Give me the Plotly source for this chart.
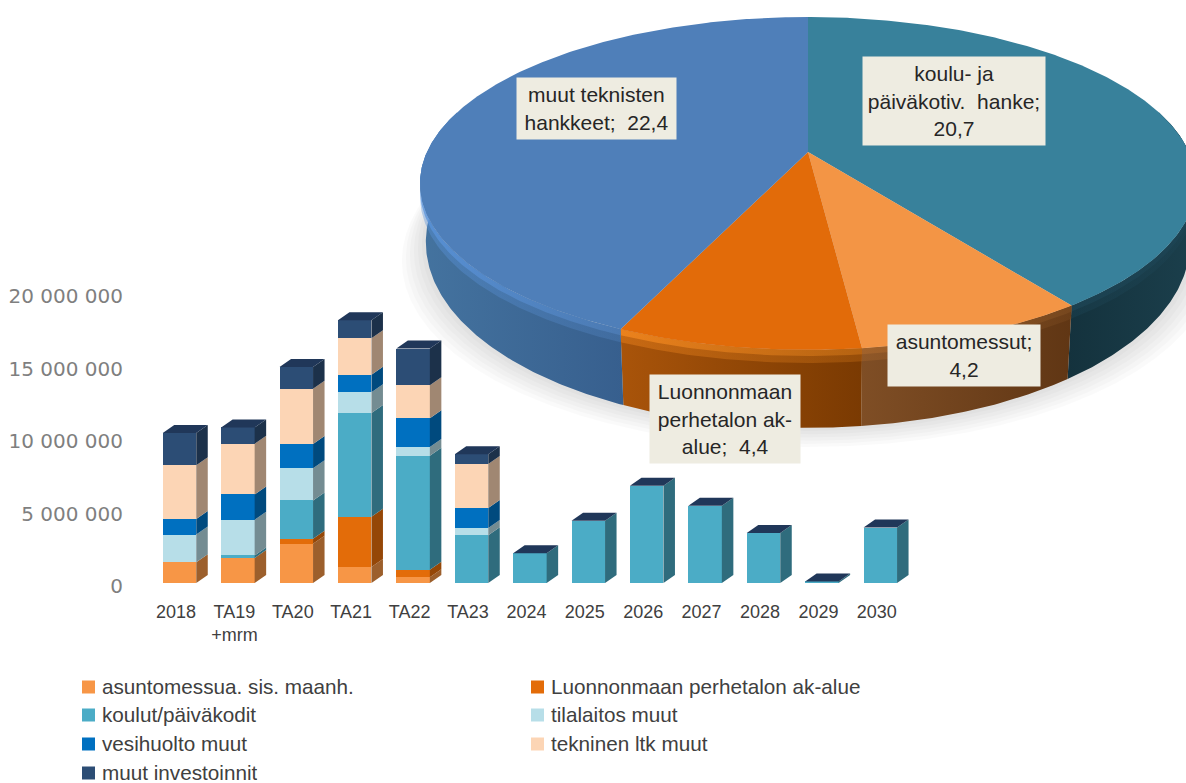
import math
import plotly.graph_objects as go

# ---------- data ----------
categories = ["2018", "TA19<br>+mrm", "TA20", "TA21", "TA22", "TA23", "2024", "2025", "2026", "2027", "2028", "2029", "2030"]
asuntomessu = [1.43, 1.72, 2.71, 1.10, 0.39, 0, 0, 0, 0, 0, 0, 0, 0]
luonnonmaa = [0, 0, 0.34, 3.47, 0.53, 0, 0, 0, 0, 0, 0, 0, 0]
koulut = [0, 0.18, 2.64, 7.15, 7.86, 3.29, 2.05, 4.30, 6.71, 5.33, 3.45, 0.11, 3.82]
tilalaitos = [1.91, 2.46, 2.23, 1.43, 0.60, 0.51, 0, 0, 0, 0, 0, 0, 0]
vesihuolto = [1.08, 1.75, 1.66, 1.22, 1.98, 1.38, 0, 0, 0, 0, 0, 0, 0]
tekninen = [3.70, 3.49, 3.82, 2.51, 2.28, 3.03, 0, 0, 0, 0, 0, 0, 0]
muut_inv = [2.23, 1.13, 1.49, 1.24, 2.53, 0.67, 0, 0, 0, 0, 0, 0, 0]
y_ticks = [0, 5, 10, 15, 20]
y_tick_labels = ["0", "5 000 000", "10 000 000", "15 000 000", "20 000 000"]

series_names = ["asuntomessua. sis. maanh.", "Luonnonmaan perhetalon ak-alue", "koulut/päiväkodit",
                "tilalaitos muut", "vesihuolto muut", "tekninen ltk muut", "muut investoinnit"]
series_values = [asuntomessu, luonnonmaa, koulut, tilalaitos, vesihuolto, tekninen, muut_inv]
series_colors = ["#f79646", "#e36c09", "#4bacc6", "#b7dee8", "#0070c0", "#fcd5b5", "#2c4d75"]
side_colors = ["#9c5f2c", "#954707", "#2f6c7d", "#748c92", "#004a7e", "#a08772", "#1c314a"]
top_color = "#203759"

pie_labels = ["koulu- ja<br>päiväkotiv.\u00a0 hanke;<br>20,7", "asuntomessut;<br>4,2",
              "Luonnonmaan<br>perhetalon ak-<br>alue;\u00a0 4,4", "muut teknisten<br>hankkeet;\u00a0 22,4"]
pie_values = [20.7, 4.2, 4.4, 22.4]
pie_colors = ["#38819b", "#f39545", "#e26b09", "#4f7fb9"]
wall_colors = [["#14323d", "#1b3f4c"], ["#7f4e25", "#603614"], ["#a9540a", "#7a3a02"], ["#44739f", "#375f8e"]]
band_colors = [["#1d4454", "#1d4454"], ["#a8662c", "#7a4a20"], ["#f78a20", "#c06a14"], ["#5b95dd", "#4f7fb9"]]
label_boxes = [(863, 1045, 57, 145), (888, 1040, 325, 386), (650, 800, 375, 463), (517, 676, 78, 139)]

# ---------- geometry of the chart ----------
FONT = "Liberation Sans"
W, H = 1186, 783
X0, PITCH, BASE, PXM = 179.5, 58.4, 583.0, 14.5
LEFT, RIGHT, TOP, BOTTOM = 130, 940, 273, 590
BAR_W = 33.5 / PITCH
DX, DY = 11.5 / PITCH, 8 / PXM

fig = go.Figure()
xs = list(range(len(categories)))

# front faces
for name, vals, col in zip(series_names, series_values, series_colors):
    fig.add_trace(go.Bar(x=xs, y=vals, name=name, width=BAR_W, marker=dict(color=col, line_width=0),
                         showlegend=False, xaxis="x", yaxis="y"))

# side faces and tops, derived from the stacked values
cum = [0.0] * len(xs)
for vals, col in zip(series_values, side_colors):
    px, py = [], []
    for i, v in enumerate(vals):
        if v > 0:
            r = i + BAR_W / 2
            px += [r, r + DX, r + DX, r, r, None]
            py += [cum[i], cum[i] + DY, cum[i] + v + DY, cum[i] + v, cum[i], None]
        cum[i] += v
    fig.add_trace(go.Scatter(x=px, y=py, mode="lines", line_width=0, fill="toself", fillcolor=col,
                             showlegend=False, hoverinfo="skip", xaxis="x", yaxis="y"))
px, py = [], []
for i, t in enumerate(cum):
    l, r = i - BAR_W / 2, i + BAR_W / 2
    px += [l, r, r + DX, l + DX, l, None]
    py += [t, t, t + DY, t + DY, t, None]
fig.add_trace(go.Scatter(x=px, y=py, mode="lines", line_width=0, fill="toself", fillcolor=top_color,
                         showlegend=False, hoverinfo="skip", xaxis="x", yaxis="y"))

# ---------- perspective pie ----------
CX, CY, A, B, K = 808.0, 152.0, 381.0, 160.5, -0.189


def top_pt(deg):
    t = math.radians(deg)
    u, v = math.sin(t), -math.cos(t)
    d = 1 + K * v
    return CX + A * u / d, CY + B * v / d


def bottom_pt(deg, grow=0.0, extra=0.0):
    x, y = top_pt(deg)
    v = -math.cos(math.radians(deg))
    return CX + (x - CX) * (0.985 + grow), y + 54 + 24 * v + extra


def arc(a, b, fn):
    n = max(2, int(abs(b - a) * 2))
    return [fn(a + (b - a) * i / n) for i in range(n + 1)]


def poly(points, **kw):
    fig.add_trace(go.Scatter(x=[p[0] for p in points], y=[p[1] for p in points], mode="lines", line_width=0,
                             fill="toself", showlegend=False, hoverinfo="skip", xaxis="x2", yaxis="y2", **kw))


# soft shadow
for e in (24, 20, 16, 12, 8, 4):
    pts = arc(0, 360, lambda d: bottom_pt(d, e / 388, e * 0.8))
    poly(pts, fillcolor="rgba(0,0,0,0.018)")

total = sum(pie_values)
angle = 0.0
spans = []
for v in pie_values:
    spans.append((angle, angle + v / total * 360))
    angle += v / total * 360

# walls and bevel bands (colour pairs run left to right)
for (a, b), wc, bc in zip(spans, wall_colors, band_colors):
    a2, b2 = max(a, 75), min(b, 285)
    wall = arc(a2, b2, top_pt) + arc(b2, a2, bottom_pt)
    poly(wall, fillgradient=dict(type="horizontal", colorscale=[[0, wc[0]], [1, wc[1]]]))
    outer = arc(a2, b2, top_pt) + [(x, y + 13) for x, y in arc(b2, a2, top_pt)]
    poly(outer, opacity=0.4, fillgradient=dict(type="horizontal", colorscale=[[0, bc[0]], [1, bc[1]]]))
    band = arc(a2, b2, top_pt) + [(x, y + 6) for x, y in arc(b2, a2, top_pt)]
    poly(band, opacity=0.75, fillgradient=dict(type="horizontal", colorscale=[[0, bc[0]], [1, bc[1]]]))

# top faces
for (a, b), name, col in zip(spans, pie_labels, pie_colors):
    pts = [(CX, CY)] + arc(a, b, top_pt) + [(CX, CY)]
    poly(pts, fillcolor=col)

# data labels
annotations = []
for text, (x0, x1, y0, y1) in zip(pie_labels, label_boxes):
    annotations.append(dict(x=(x0 + x1) / 2, y=(y0 + y1) / 2, xref="x2", yref="y2", text=text, showarrow=False,
                            width=x1 - x0, height=y1 - y0, bgcolor="#eeece1", borderpad=0, align="center",
                            valign="middle", font=dict(family=FONT, size=21, color="#262626")))

# legend keys and texts
shapes = []
rows = [(82, 100, 687), (531, 549, 687), (82, 100, 715), (531, 549, 715), (82, 100, 744), (531, 549, 744), (82, 100, 773)]
for (kx, tx, ry), name, col in zip(rows, series_names, series_colors):
    shapes.append(dict(type="rect", xref="x2", yref="y2", x0=kx, x1=kx + 13, y0=ry - 6.5, y1=ry + 6.5,
                       fillcolor=col, line_width=0))
    label = dict(x=tx, y=ry - 1, xref="x2", yref="y2", text=name, showarrow=False, xanchor="left",
                 yanchor="middle", font=dict(family=FONT, size=20.7, color="#404040"))
    if ry + 14 > H:  # bottom row has no descenders: keep its box inside the page
        label.update(x=tx + 1, height=18, valign="middle", borderpad=0)
    annotations.append(label)

fig.update_layout(
    width=W, height=H, margin=dict(l=0, r=0, t=0, b=0), autosize=False,
    paper_bgcolor="white", plot_bgcolor="rgba(0,0,0,0)", barmode="stack", showlegend=False,
    annotations=annotations, shapes=shapes,
    xaxis=dict(domain=[LEFT / W, RIGHT / W], range=[(LEFT - X0) / PITCH, (RIGHT - X0) / PITCH],
               tickvals=[i - 0.06 for i in xs], ticktext=categories, showgrid=False, zeroline=False, showline=False,
               ticks="outside", ticklen=5, tickcolor="rgba(0,0,0,0)",
               tickfont=dict(family=FONT, size=18, color="#404040"), tickangle=0, anchor="y"),
    yaxis=dict(domain=[1 - BOTTOM / H, 1 - TOP / H], range=[(BASE - BOTTOM) / PXM, (BASE - TOP) / PXM],
               tickvals=[t - 3 / PXM for t in y_ticks], ticktext=y_tick_labels, showgrid=False, zeroline=False,
               showline=False, ticks="outside", ticklen=2, tickcolor="rgba(0,0,0,0)",
               tickfont=dict(family="DejaVu Sans", size=20, color="#7f7f7f"), anchor="x", automargin=False),
    xaxis2=dict(domain=[0, 1], range=[0, W], visible=False, anchor="y2", fixedrange=True),
    yaxis2=dict(domain=[0, 1], range=[H, 0], visible=False, anchor="x2", fixedrange=True),
)
fig.write_html("out.html", config=dict(displayModeBar=False),
               post_script="document.body.style.margin='0';document.body.style.overflow='hidden';")
